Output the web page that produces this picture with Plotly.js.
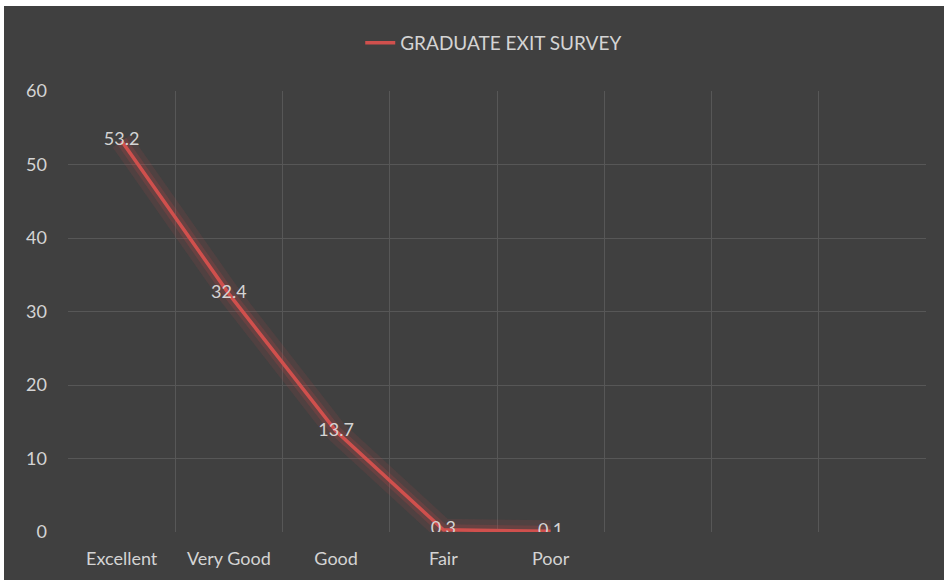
<!DOCTYPE html>
<html>
<head>
<meta charset="utf-8">
<script src="https://cdn.plot.ly/plotly-3.0.1.min.js"></script>
<style>
html,body{margin:0;padding:0;background:#ffffff;width:944px;height:580px;overflow:hidden;}
#chart{position:absolute;left:4px;top:6px;width:940px;height:574px;}
</style>
</head>
<body>
<div id="chart"></div>
<script>
const categories = ['Excellent', 'Very Good', 'Good', 'Fair', 'Poor'];
const blankSlots = [' ', '  ', '   '];
const values = [53.2, 32.4, 13.7, 0.3, 0.1];
const labels = ['53.2', '32.4', '13.7', '0.3', '0.1'];
const seriesName = 'GRADUATE EXIT SURVEY';
const yTicks = [0, 10, 20, 30, 40, 50, 60];

const font = 'Lato, "Open Sans", sans-serif';
const txt = '#d4d4d4';

const glow = {
  x: categories, y: values, type: 'scatter', mode: 'lines',
  line: {color: 'rgba(200,70,70,0.12)', width: 22},
  showlegend: false, hoverinfo: 'skip'
};
const glow2 = {
  x: categories, y: values, type: 'scatter', mode: 'lines',
  line: {color: 'rgba(200,70,70,0.2)', width: 11},
  showlegend: false, hoverinfo: 'skip'
};
const main = {
  x: categories, y: values, type: 'scatter', mode: 'lines+text',
  name: seriesName,
  text: labels, textposition: 'middle center',
  textfont: {family: font, size: 18, color: txt},
  line: {color: '#d0504d', width: 3.5}
};

const layout = {
  width: 940, height: 574,
  paper_bgcolor: '#404040', plot_bgcolor: '#404040',
  margin: {l: 64, r: 18, t: 85, b: 48},
  font: {family: font, color: txt, size: 18},
  showlegend: true,
  legend: {orientation: 'h', xref: 'container', yref: 'container', x: 0.521, xanchor: 'center',
           y: 0.9355, yanchor: 'middle',
           font: {family: font, size: 19, color: txt}, bgcolor: 'rgba(0,0,0,0)'},
  xaxis: {type: 'category', categoryorder: 'array', categoryarray: categories.concat(blankSlots),
          range: [-0.5, 7.5], tickson: 'boundaries', showgrid: true, gridcolor: '#575757', gridwidth: 1,
          ticks: '', showline: false, zeroline: false, fixedrange: true, ticklabelstandoff: 14,
          tickfont: {family: font, size: 18, color: txt}},
  yaxis: {range: [0, 60], tickvals: yTicks, showgrid: true, gridcolor: '#575757', gridwidth: 1,
          zeroline: false, showline: false, ticks: '', ticklabelstandoff: 20,
          tickfont: {family: font, size: 18, color: txt}}
};

Plotly.newPlot('chart', [glow, glow2, main], layout, {displayModeBar: false, staticPlot: true});
</script>
</body>
</html>
